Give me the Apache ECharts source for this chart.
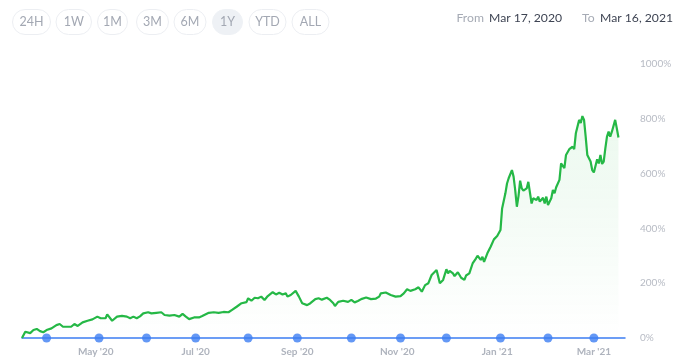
<!DOCTYPE html>
<html><head><meta charset="utf-8">
<script src="https://cdn.jsdelivr.net/npm/echarts@6/dist/echarts.min.js"></script>
<style>html,body{margin:0;padding:0;background:#fff}#c{width:690px;height:363px}</style>
</head><body><div id="c"></div>
<script>
const dates = ["2020-03-17","2020-03-19","2020-03-20","2020-03-22","2020-03-24","2020-03-26","2020-03-28","2020-03-30","2020-04-01","2020-04-04","2020-04-07","2020-04-09","2020-04-11","2020-04-14","2020-04-16","2020-04-18","2020-04-20","2020-04-23","2020-04-26","2020-04-29","2020-05-02","2020-05-04","2020-05-07","2020-05-08","2020-05-11","2020-05-14","2020-05-17","2020-05-20","2020-05-22","2020-05-24","2020-05-26","2020-05-28","2020-05-30","2020-06-02","2020-06-04","2020-06-07","2020-06-10","2020-06-12","2020-06-15","2020-06-18","2020-06-19","2020-06-21","2020-06-23","2020-06-25","2020-06-27","2020-06-30","2020-07-03","2020-07-05","2020-07-09","2020-07-12","2020-07-15","2020-07-18","2020-07-21","2020-07-23","2020-07-26","2020-07-29","2020-08-01","2020-08-02","2020-08-04","2020-08-06","2020-08-08","2020-08-10","2020-08-12","2020-08-14","2020-08-17","2020-08-19","2020-08-21","2020-08-23","2020-08-25","2020-08-26","2020-08-28","2020-08-31","2020-09-02","2020-09-04","2020-09-07","2020-09-09","2020-09-12","2020-09-14","2020-09-16","2020-09-19","2020-09-21","2020-09-23","2020-09-24","2020-09-26","2020-09-29","2020-10-02","2020-10-04","2020-10-06","2020-10-08","2020-10-10","2020-10-13","2020-10-16","2020-10-19","2020-10-21","2020-10-22","2020-10-25","2020-10-28","2020-10-31","2020-11-03","2020-11-05","2020-11-07","2020-11-09","2020-11-12","2020-11-14","2020-11-16","2020-11-18","2020-11-20","2020-11-22","2020-11-23","2020-11-25","2020-11-26","2020-11-27","2020-11-29","2020-12-01","2020-12-02","2020-12-03","2020-12-05","2020-12-06","2020-12-08","2020-12-10","2020-12-12","2020-12-13","2020-12-15","2020-12-17","2020-12-19","2020-12-20","2020-12-22","2020-12-23","2020-12-24","2020-12-26","2020-12-28","2020-12-30","2021-01-01","2021-01-02","2021-01-03","2021-01-04","2021-01-05","2021-01-06","2021-01-07","2021-01-08","2021-01-10","2021-01-11","2021-01-12","2021-01-13","2021-01-14","2021-01-15","2021-01-16","2021-01-17","2021-01-19","2021-01-20","2021-01-21","2021-01-22","2021-01-23","2021-01-25","2021-01-26","2021-01-27","2021-01-29","2021-01-30","2021-01-31","2021-02-01","2021-02-03","2021-02-04","2021-02-05","2021-02-06","2021-02-07","2021-02-08","2021-02-09","2021-02-10","2021-02-11","2021-02-12","2021-02-14","2021-02-16","2021-02-17","2021-02-18","2021-02-19","2021-02-20","2021-02-21","2021-02-22","2021-02-23","2021-02-24","2021-02-25","2021-02-26","2021-02-27","2021-02-28","2021-03-01","2021-03-02","2021-03-03","2021-03-04","2021-03-05","2021-03-06","2021-03-07","2021-03-08","2021-03-09","2021-03-10","2021-03-11","2021-03-12","2021-03-13","2021-03-14","2021-03-15","2021-03-16"];
const returns = [0,23,25,18,29,33,25,21,29,35,47,51,41,41,41,51,44,57,63,68,78,72,72,86,63,78,81,78,72,78,72,79,90,94,90,92,94,84,82,84,80,78,88,78,69,75,75,80,92,94,92,95,94,102,114,127,131,145,136,147,145,151,139,153,167,159,165,159,163,151,157,172,151,127,120,127,142,145,140,147,139,127,117,132,136,132,139,130,135,142,148,142,144,151,163,166,157,151,153,163,178,172,178,185,169,193,200,230,236,248,224,200,212,251,236,245,236,226,240,220,212,228,236,272,290,300,285,296,278,309,333,360,372,365,394,473,479,528,564,583,613,589,540,479,518,574,546,538,546,570,564,491,510,504,516,498,512,491,516,485,510,540,528,550,546,577,637,644,620,668,689,698,689,747,753,796,785,810,796,735,668,664,644,613,604,599,652,637,668,635,644,692,735,753,735,753,753,796,765,732];
const eventDates = ["2020-04-01","2020-05-03","2020-06-01","2020-07-01","2020-08-02","2020-09-01","2020-10-04","2020-11-03","2020-12-01","2021-01-03","2021-02-01","2021-03-01"];
const xTickDates = ["2020-05-01","2020-07-01","2020-09-01","2020-11-01","2021-01-01","2021-03-01"];
const yTicks = [0,200,400,600,800,1000];
const ranges = ["24H","1W","1M","3M","6M","1Y","YTD","ALL"];
const activeRange = "1Y";
const fromDate = "Mar 17, 2020";
const toDate = "Mar 16, 2021";

const FONT = "Lato, 'Open Sans', sans-serif";
const btnX = [12.5,56,97.5,136.5,174,212.5,249,292];
const btnW = [38,35.5,30,32,32,30,37,37];
const MON = ["Jan","Feb","Mar","Apr","May","Jun","Jul","Aug","Sep","Oct","Nov","Dec"];
const ts = s => { const [y,m,d] = s.split("-").map(Number); return new Date(y,m-1,d).getTime(); };
const tickSet = new Set(xTickDates.map(ts));

const graphics = [];
ranges.forEach((r,i) => {
  const active = r === activeRange;
  graphics.push({type:'rect', shape:{x:btnX[i], y:9.5, width:btnW[i], height:25, r:12.5},
    style:{fill: active ? '#eef1f5' : '#fff', stroke: active ? '#eef1f5' : '#eceef2', lineWidth:1}});
  graphics.push({type:'text', x:btnX[i]+btnW[i]/2, y:22, style:{text:r, fill:'#a3a8b3', font:'12.5px '+FONT, textAlign:'center', textVerticalAlign:'middle'}});
});
const hdr = [["From",456.5,'#a6abb5'],[fromDate,489,'#3e4453'],["To",582,'#a6abb5'],[toDate,600,'#3e4453']];
hdr.forEach(h => graphics.push({type:'text', x:h[1], y:18, style:{text:h[0], fill:h[2], font:'12.2px '+FONT, textAlign:'left', textVerticalAlign:'middle'}}));

const chart = echarts.init(document.getElementById('c'));
chart.setOption({
  animation:false,
  graphic: graphics,
  grid:{left:22, right:65, top:64, bottom:25, containLabel:false},
  xAxis:{type:'time', min:ts("2020-03-17"), max:ts("2021-03-20"), splitNumber:6,
    axisLine:{show:true, lineStyle:{color:'#3d7ef2', width:1.5}},
    axisTick:{show:false},
    splitLine:{show:false},
    axisLabel:{margin:9, color:'#aeb3bd', fontSize:10, fontFamily:FONT, fontWeight:'bold', hideOverlap:false,
      formatter: v => { if (!tickSet.has(v)) return ''; const d = new Date(v); return MON[d.getMonth()] + " '" + String(d.getFullYear()).slice(2); }}
  },
  yAxis:{type:'value', position:'right', min:yTicks[0], max:yTicks[yTicks.length-1], interval:yTicks[1]-yTicks[0],
    axisLine:{show:false}, axisTick:{show:false}, splitLine:{show:false},
    axisLabel:{margin:15, color:'#b7bbc4', fontSize:10, fontFamily:FONT, formatter: v => v + '%'}
  },
  series:[
    {type:'line', data: dates.map((d,i)=>[ts(d), returns[i]]), symbol:'none', z:3,
      lineStyle:{color:'#25b846', width:2.2},
      areaStyle:{color:{type:'linear', x:0, y:0, x2:0, y2:1, colorStops:[
        {offset:0, color:'rgba(37,184,70,0.13)'},{offset:0.85, color:'rgba(37,184,70,0.02)'},{offset:1, color:'rgba(37,184,70,0)'}]}}
    },
    {type:'scatter', data: eventDates.map(d=>[ts(d),0]), symbol:'circle', symbolSize:9, z:5,
      itemStyle:{color:'#3d7ef2'}, clip:false}
  ]
});
</script></body></html>
